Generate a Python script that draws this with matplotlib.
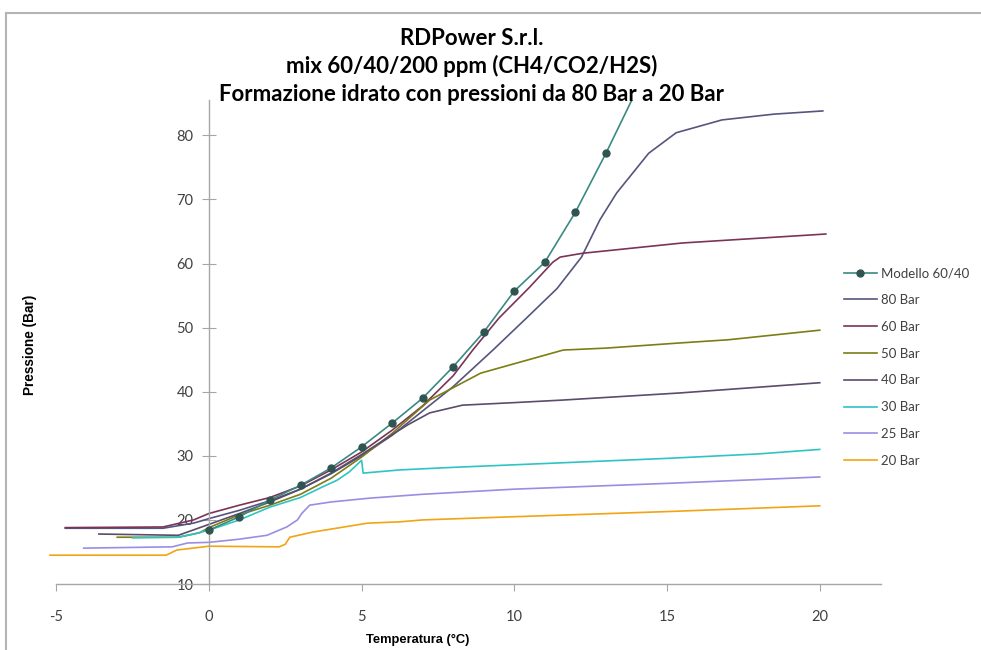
import matplotlib
matplotlib.use("Agg")
import matplotlib.pyplot as plt
from matplotlib.lines import Line2D

plt.rcParams["axes.unicode_minus"] = False

# Temperature (°C) and pressure (Bar) per run
model_t = [0, 1, 2, 3, 4, 5, 6, 7, 8, 9, 10, 11, 12, 13, 14]
model_p = [18.4, 20.5, 23.1, 25.4, 28.1, 31.4, 35.1, 39.0, 43.9, 49.3, 55.7, 60.2, 68.0, 77.2, 87.0]

bar80_t = [-4.7, -1.5, -0.5, 0, 1, 2, 3, 4, 5, 6, 7, 8, 9.3, 10.4, 11.4, 12.2, 12.8, 13.35, 14.4, 15.3, 16.8, 18.5, 20.1]
bar80_p = [18.7, 18.7, 19.5, 20.2, 21.5, 23.0, 24.8, 27.2, 30.0, 33.2, 37.0, 40.8, 46.5, 51.5, 56.1, 61.0, 66.8, 71.0, 77.2, 80.4, 82.4, 83.3, 83.8]

bar60_t = [-4.7, -1.5, -0.5, 0, 1, 2, 3, 4, 5, 6, 7, 8, 8.64, 9.5, 10.5, 11.26, 11.5, 12.24, 15.5, 20.2]
bar60_p = [18.8, 18.9, 20.0, 21.0, 22.3, 23.5, 25.3, 27.8, 30.6, 34.0, 37.8, 42.5, 46.5, 51.5, 56.3, 60.2, 61.0, 61.6, 63.2, 64.6]

bar50_t = [-3.0, -1.0, -0.3, 0, 1, 2, 3, 4, 5, 6, 7.23, 8.9, 10.1, 11.6, 13, 15.4, 17, 20]
bar50_p = [17.3, 17.3, 18.0, 18.8, 20.8, 22.3, 24.0, 26.5, 29.8, 33.5, 38.7, 42.9, 44.5, 46.5, 46.8, 47.6, 48.1, 49.6]

bar40_t = [-3.6, -1.0, 0, 1, 2, 3, 4, 5, 6, 6.5, 7.23, 8.3, 10, 11.6, 15.4, 20]
bar40_p = [17.8, 17.6, 19.3, 21.0, 22.8, 24.8, 27.3, 30.2, 33.3, 34.8, 36.7, 37.9, 38.3, 38.7, 39.8, 41.4]

bar30_t = [-2.5, -1.0, -0.5, 0, 1, 2, 3, 3.7, 4.2, 4.6, 5.0, 5.05, 6.25, 8, 10, 12, 15, 18, 20]
bar30_p = [17.2, 17.3, 17.8, 18.4, 20.0, 22.0, 23.5, 25.1, 26.2, 27.5, 29.3, 27.3, 27.8, 28.2, 28.6, 29.0, 29.6, 30.3, 31.0]

bar25_t = [-4.1, -1.2, -0.7, 0, 1, 1.9, 2.55, 2.9, 3.04, 3.3, 4, 5.27, 7, 10, 15, 20]
bar25_p = [15.6, 15.8, 16.4, 16.5, 17.0, 17.6, 18.9, 20.0, 21.0, 22.3, 22.8, 23.4, 24.0, 24.8, 25.7, 26.7]

bar20_t = [-5.2, -1.4, -1.05, 0, 2.3, 2.5, 2.65, 3.4, 5.2, 6.25, 7, 10, 15, 20]
bar20_p = [14.5, 14.5, 15.3, 15.9, 15.8, 16.2, 17.3, 18.1, 19.5, 19.7, 20.0, 20.5, 21.3, 22.2]

runs = [
    ("80 Bar", bar80_t, bar80_p, "#55557f"),
    ("60 Bar", bar60_t, bar60_p, "#7b3457"),
    ("50 Bar", bar50_t, bar50_p, "#7d7d14"),
    ("40 Bar", bar40_t, bar40_p, "#5b4c6b"),
    ("30 Bar", bar30_t, bar30_p, "#2fc4c4"),
    ("25 Bar", bar25_t, bar25_p, "#9c8de3"),
    ("20 Bar", bar20_t, bar20_p, "#f2a414"),
]

fig = plt.figure(figsize=(9.81, 6.5), dpi=100)
ax = fig.add_axes([0.0479, 0.1015, 0.850, 0.7446])

# draw the runs first, model on top
for label, t, p, col in runs:
    ax.plot(t, p, color=col, lw=1.2, label=label)
ax.plot(model_t, model_p, color="#3a8a82", lw=1.2, marker="o", ms=5,
        mfc="#2f5552", mec="#2f5552", label="Modello 60/40", zorder=5)

ax.set_xlim(-5.3, 22)
ax.set_ylim(10, 85.5)
ax.set_xticks([-5, 0, 5, 10, 15, 20])
ax.set_yticks([10, 20, 30, 40, 50, 60, 70, 80])

# excel style axes: y axis crossing at T = 0
for s in ["top", "right"]:
    ax.spines[s].set_visible(False)
ax.spines["left"].set_position(("data", 0))
ax.spines["bottom"].set_bounds(-5, 22)
for s in ["left", "bottom"]:
    ax.spines[s].set_color("#a6a6a6")
    ax.spines[s].set_linewidth(1.0)
ax.tick_params(axis="y", direction="inout", length=10, color="#a6a6a6",
               labelsize=10.5, labelcolor="#404040", pad=6)
ax.tick_params(axis="x", direction="out", length=5, color="#a6a6a6",
               labelsize=10.5, labelcolor="#404040", pad=14)
for lab in ax.get_xticklabels() + ax.get_yticklabels():
    lab.set_fontfamily("Lato")

title_lines = ["RDPower S.r.l.",
               "mix 60/40/200 ppm (CH4/CO2/H2S)",
               "Formazione idrato con pressioni da 80 Bar a 20 Bar"]
for i, line in enumerate(title_lines):
    fig.text(0.481, 0.9415 - i * 0.0432, line, ha="center", va="center",
             fontsize=16, fontweight="bold", family="Lato")

fig.text(0.031, 0.47, "Pressione (Bar)", rotation=90, ha="center", va="center",
         fontsize=9.8, fontweight="bold", family="Liberation Sans")
fig.text(0.426, 0.016, "Temperatura (°C)", ha="center", va="center",
         fontsize=9.3, fontweight="bold", family="Liberation Sans")

# legend order as in the picture
h, l = ax.get_legend_handles_labels()
order = [7, 0, 1, 2, 3, 4, 5, 6]
leg = fig.legend([h[i] for i in order], [l[i] for i in order], loc="upper left",
                 bbox_to_anchor=(0.848, 0.607), frameon=False,
                 handlelength=2.5, handletextpad=0.3, labelspacing=1.12,
                 prop={"family": "Lato", "size": 9.5})
for txt in leg.get_texts():
    txt.set_color("#404040")

# chart border
fig.add_artist(Line2D([0.006, 0.006], [0, 0.98], color="#b4b4b4", lw=1.5))
fig.add_artist(Line2D([0.006, 1.0], [0.98, 0.98], color="#b4b4b4", lw=1.5))

fig.savefig("out.png", dpi=100)
